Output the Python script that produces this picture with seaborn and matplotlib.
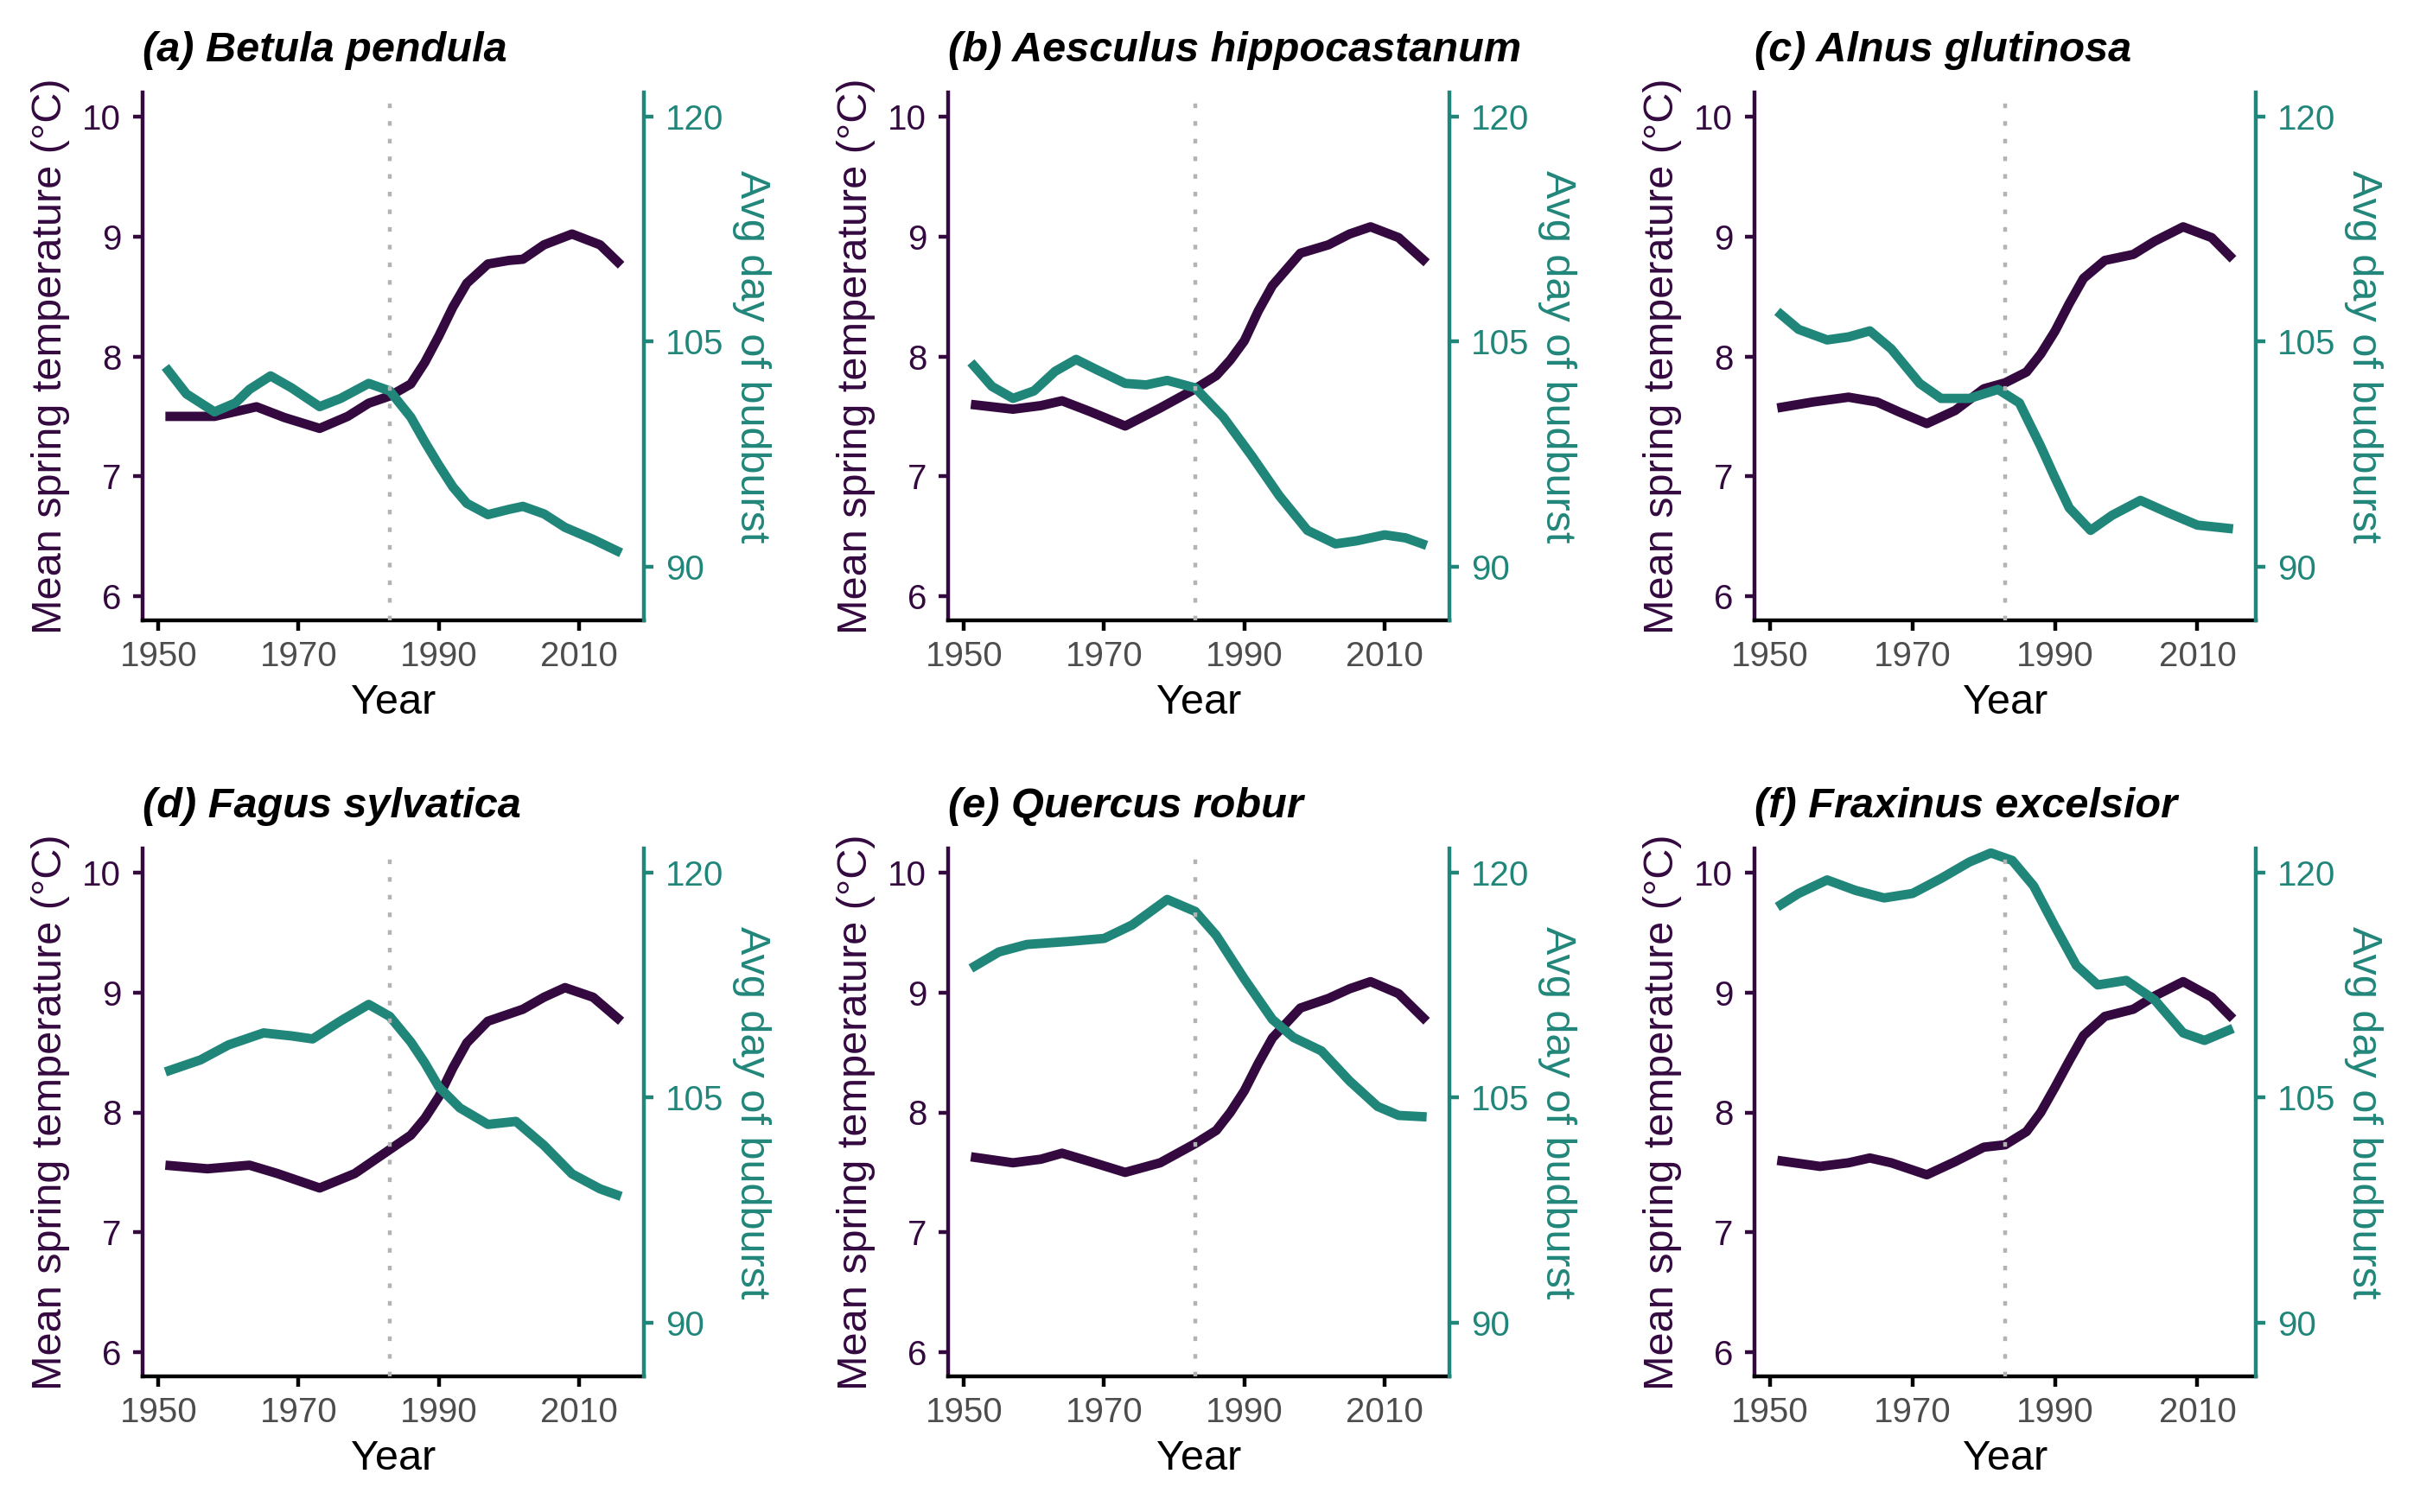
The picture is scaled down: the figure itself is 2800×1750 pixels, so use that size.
import pandas as pd
import seaborn as sns
import matplotlib.pyplot as plt

PURPLE = "#33093F"
TEAL = "#21867A"
GREY = "#B3B3B3"

titles = ["(a) Betula pendula", "(b) Aesculus hippocastanum", "(c) Alnus glutinosa",
          "(d) Fagus sylvatica", "(e) Quercus robur", "(f) Fraxinus excelsior"]

# mean spring temperature (smoothed), per panel
temp_years_a = [1951, 1955, 1958, 1961, 1964, 1968, 1973, 1977, 1980, 1983, 1986, 1988, 1990, 1992, 1994, 1997, 2000, 2002, 2005, 2009, 2013, 2016]
temp_a = [7.50, 7.50, 7.50, 7.54, 7.58, 7.49, 7.40, 7.50, 7.61, 7.67, 7.77, 7.95, 8.17, 8.41, 8.61, 8.77, 8.80, 8.81, 8.93, 9.02, 8.93, 8.76]
temp_years_b = [1951, 1957, 1961, 1964, 1968, 1973, 1978, 1983, 1986, 1988, 1990, 1992, 1994, 1998, 2002, 2005, 2008, 2012, 2016]
temp_b = [7.60, 7.56, 7.59, 7.63, 7.54, 7.42, 7.57, 7.73, 7.84, 7.97, 8.13, 8.38, 8.59, 8.86, 8.93, 9.02, 9.08, 8.99, 8.78]
temp_years_c = [1951, 1956, 1961, 1965, 1968, 1972, 1976, 1980, 1983, 1986, 1988, 1990, 1992, 1994, 1997, 2001, 2004, 2008, 2012, 2015]
temp_c = [7.57, 7.62, 7.66, 7.62, 7.54, 7.44, 7.55, 7.73, 7.78, 7.87, 8.02, 8.21, 8.44, 8.65, 8.80, 8.85, 8.96, 9.08, 8.99, 8.81]
temp_years_d = [1951, 1957, 1963, 1967, 1973, 1978, 1983, 1986, 1988, 1990, 1992, 1994, 1997, 2002, 2005, 2008, 2012, 2016]
temp_d = [7.56, 7.53, 7.56, 7.49, 7.37, 7.49, 7.69, 7.81, 7.95, 8.13, 8.37, 8.58, 8.76, 8.86, 8.96, 9.04, 8.96, 8.76]
temp_years_e = [1951, 1957, 1961, 1964, 1968, 1973, 1978, 1983, 1986, 1988, 1990, 1992, 1994, 1998, 2002, 2005, 2008, 2012, 2016]
temp_e = [7.63, 7.58, 7.61, 7.66, 7.59, 7.50, 7.58, 7.74, 7.85, 8.00, 8.18, 8.41, 8.62, 8.87, 8.95, 9.03, 9.09, 8.99, 8.76]
temp_years_f = [1951, 1957, 1961, 1964, 1967, 1972, 1976, 1980, 1983, 1986, 1988, 1990, 1992, 1994, 1997, 2001, 2004, 2008, 2012, 2015]
temp_f = [7.60, 7.55, 7.58, 7.62, 7.58, 7.48, 7.59, 7.71, 7.73, 7.84, 8.00, 8.21, 8.43, 8.64, 8.80, 8.86, 8.97, 9.09, 8.96, 8.78]

# average day of budburst (smoothed), per panel
bud_years_a = [1951, 1954, 1958, 1961, 1963, 1966, 1969, 1973, 1976, 1980, 1983, 1986, 1988, 1990, 1992, 1994, 1997, 2000, 2002, 2005, 2008, 2012, 2016]
bud_a = [103.3, 101.5, 100.3, 100.9, 101.8, 102.7, 101.9, 100.65, 101.2, 102.2, 101.7, 99.95, 98.3, 96.75, 95.3, 94.2, 93.45, 93.8, 94.0, 93.5, 92.6, 91.8, 90.9]
bud_years_b = [1951, 1954, 1957, 1960, 1963, 1966, 1969, 1973, 1976, 1979, 1983, 1987, 1991, 1995, 1999, 2003, 2006, 2010, 2013, 2016]
bud_b = [103.6, 102.0, 101.2, 101.7, 103.0, 103.8, 103.1, 102.2, 102.1, 102.4, 101.9, 99.95, 97.4, 94.7, 92.4, 91.5, 91.7, 92.1, 91.9, 91.4]
bud_years_c = [1951, 1954, 1958, 1961, 1964, 1967, 1971, 1974, 1978, 1982, 1985, 1988, 1990, 1992, 1995, 1998, 2002, 2006, 2010, 2015]
bud_c = [107.0, 105.8, 105.1, 105.3, 105.7, 104.5, 102.2, 101.2, 101.2, 101.8, 100.9, 98.0, 95.9, 93.9, 92.4, 93.4, 94.4, 93.55, 92.75, 92.5]
bud_years_d = [1951, 1956, 1960, 1965, 1969, 1972, 1976, 1980, 1983, 1986, 1988, 1990, 1993, 1997, 2001, 2005, 2009, 2013, 2016]
bud_d = [106.7, 107.5, 108.5, 109.3, 109.1, 108.9, 110.1, 111.2, 110.4, 108.7, 107.3, 105.7, 104.3, 103.2, 103.4, 101.8, 99.9, 98.9, 98.4]
bud_years_e = [1951, 1955, 1959, 1965, 1970, 1974, 1979, 1983, 1986, 1990, 1994, 1997, 2001, 2005, 2009, 2012, 2016]
bud_e = [113.6, 114.7, 115.2, 115.4, 115.6, 116.5, 118.2, 117.4, 115.8, 112.9, 110.2, 109.0, 108.1, 106.1, 104.4, 103.8, 103.7]
bud_years_f = [1951, 1954, 1958, 1962, 1966, 1970, 1974, 1978, 1981, 1984, 1987, 1990, 1993, 1996, 2000, 2004, 2008, 2011, 2015]
bud_f = [117.7, 118.6, 119.5, 118.8, 118.3, 118.6, 119.6, 120.7, 121.3, 120.8, 119.1, 116.4, 113.8, 112.5, 112.8, 111.5, 109.3, 108.8, 109.6]

break_year = 1983
temp_ticks = [6, 7, 8, 9, 10]
bud_ticks = [90, 105, 120]
year_ticks = [1950, 1970, 1990, 2010]

temps = [(temp_years_a, temp_a), (temp_years_b, temp_b), (temp_years_c, temp_c),
         (temp_years_d, temp_d), (temp_years_e, temp_e), (temp_years_f, temp_f)]
buds = [(bud_years_a, bud_a), (bud_years_b, bud_b), (bud_years_c, bud_c),
        (bud_years_d, bud_d), (bud_years_e, bud_e), (bud_years_f, bud_f)]

sns.set_style("white")
plt.rcParams['font.family'] = ['Liberation Sans', 'DejaVu Sans']

W, H = 2800, 1750
fig = plt.figure(figsize=(14, 8.75), dpi=200)
lefts = [165, 1097, 2030]
tops = [107, 982]
aw, ah = 580, 611

t_lim = (6 - 0.2, 10 + 0.2)


def to_bud(t):
    # secondary axis: day = 8 * temperature + 40
    return 8 * t + 40


for i in range(6):
    l = lefts[i % 3]
    tp = tops[i // 3]
    ax = fig.add_axes([l / W, 1 - (tp + ah) / H, aw / W, ah / H])
    ax2 = ax.twinx()

    ty, tv = temps[i]
    by, bv = buds[i]
    df_t = pd.DataFrame({"year": ty, "value": tv})
    df_b = pd.DataFrame({"year": by, "value": bv})

    sns.lineplot(data=df_t, x="year", y="value", ax=ax, color=PURPLE, linewidth=3.9,
                 solid_capstyle="butt", solid_joinstyle="round")
    sns.lineplot(data=df_b, x="year", y="value", ax=ax2, color=TEAL, linewidth=3.9,
                 solid_capstyle="butt", solid_joinstyle="round")
    ax2.axvline(break_year, color=GREY, linewidth=1.6, linestyle=(0, (1.2, 3.4)), zorder=5)

    x0 = min(ty[0], by[0])
    x1 = max(ty[-1], by[-1])
    pad = 0.05 * (x1 - x0)
    ax.set_xlim(x0 - pad, x1 + pad)
    ax.set_ylim(*t_lim)
    ax2.set_ylim(to_bud(t_lim[0]), to_bud(t_lim[1]))

    ax.set_xticks(year_ticks)
    ax.set_yticks(temp_ticks)
    ax2.set_yticks(bud_ticks)

    for s in ["top", "right"]:
        ax.spines[s].set_visible(False)
    for s in ["top", "left", "bottom"]:
        ax2.spines[s].set_visible(False)
    ax.spines["left"].set_color(PURPLE)
    ax.spines["bottom"].set_color("black")
    ax2.spines["right"].set_color(TEAL)
    for sp in [ax.spines["left"], ax.spines["bottom"], ax2.spines["right"]]:
        sp.set_linewidth(1.6)

    ax.tick_params(axis="y", colors=PURPLE, labelsize=14.5, length=4, width=1.6,
                   pad=4.9, left=True)
    ax.tick_params(axis="x", colors="black", labelcolor="#4D4D4D", labelsize=14.5,
                   length=4.3, width=1.6, pad=3.8, bottom=True)
    ax2.tick_params(axis="y", colors=TEAL, labelsize=14.5, length=4, width=1.6,
                    pad=5, right=True)

    ax.set_xlabel("Year", fontsize=17.5, color="black", labelpad=4.5)
    ax.set_ylabel("Mean spring temperature (°C)", fontsize=17.5, color=PURPLE, labelpad=5)
    ax2.set_ylabel("Avg day of budburst", fontsize=17.5, color=TEAL, rotation=270,
                   va="bottom", labelpad=3.5)
    ax.set_title(titles[i], loc="left", fontsize=17.5, fontweight="bold",
                 fontstyle="italic", color="black", pad=13)
    ax.grid(False)
    ax2.grid(False)

fig.savefig("out.png", dpi=200, facecolor="white")
